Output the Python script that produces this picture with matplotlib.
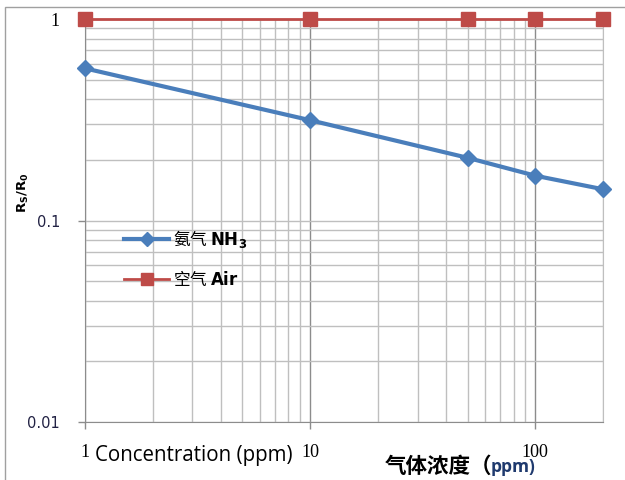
import matplotlib
matplotlib.use("Agg")
import matplotlib.pyplot as plt
from matplotlib.ticker import LogLocator, FixedLocator, NullFormatter, FixedFormatter
from matplotlib.patches import Rectangle

conc = [1, 10, 50, 100, 200]
nh3 = [0.57, 0.315, 0.205, 0.167, 0.143]
air = [1, 1, 1, 1, 1]
xticks = [1, 10, 100]
xticklabels = ["1", "10", "100"]
yticks = [0.01, 0.1, 1]
yticklabels = ["0.01", "0.1", "1"]

cjk = ['Noto Sans CJK SC', 'DejaVu Sans']

fig = plt.figure(figsize=(6.25, 4.8), dpi=100)
ax = fig.add_axes([0.136, 0.121, 0.829, 0.839])
ax.set_xscale('log')
ax.set_yscale('log')
ax.set_xlim(1, 200)
ax.set_ylim(0.01, 1)

grid_c = '#BFBFBF'
ax.xaxis.set_minor_locator(LogLocator(base=10, subs=range(2, 10), numticks=20))
ax.yaxis.set_minor_locator(LogLocator(base=10, subs=range(2, 10), numticks=20))
ax.xaxis.set_minor_formatter(NullFormatter())
ax.yaxis.set_minor_formatter(NullFormatter())
ax.grid(which='minor', color=grid_c, lw=1.0)
ax.grid(which='major', axis='y', color=grid_c, lw=1.0)
ax.grid(which='major', axis='x', color='#8C8C8C', lw=1.0)
ax.tick_params(which='minor', length=0)
ax.tick_params(which='major', length=5, color='#8C8C8C', width=1)
ax.set_axisbelow(True)

ax.xaxis.set_major_locator(FixedLocator(xticks))
ax.xaxis.set_major_formatter(FixedFormatter(xticklabels))
ax.yaxis.set_major_locator(FixedLocator(yticks))
ax.yaxis.set_major_formatter(FixedFormatter(yticklabels))
for lab in ax.get_xticklabels():
    lab.set_fontfamily('Liberation Serif')
    lab.set_fontsize(13)
ax.tick_params(axis='x', pad=11)
ax.tick_params(axis='y', pad=13, labelsize=10.5, labelcolor='#222244')
for lab, t in zip(ax.get_yticklabels(), yticks):
    if t == 1:
        lab.set_fontfamily('Liberation Serif')
        lab.set_fontsize(13)
        lab.set_color('black')

for s in ['left', 'bottom']:
    ax.spines[s].set_color('#8C8C8C')
for s in ['top', 'right']:
    ax.spines[s].set_color(grid_c)

l1, = ax.plot(conc, nh3, color='#4A7EBB', lw=3, marker='D', ms=8,
              markeredgecolor='#4A7EBB', markerfacecolor='#4A7EBB', clip_on=False, zorder=3)
l2, = ax.plot(conc, air, color='#BE4B48', lw=2, marker='s', ms=10,
              markeredgecolor='#BE4B48', markerfacecolor='#BE4B48', clip_on=False, zorder=3)

leg = ax.legend([l1, l2], ['氨气 $\\mathbf{NH_3}$', '空气 $\\mathbf{Air}$'],
                loc='upper left', bbox_to_anchor=(0.047, 0.52), frameon=False,
                prop={'family': cjk, 'size': 12}, handlelength=2.7,
                handletextpad=0.2, labelspacing=1.15, markerscale=0.85)

ax.set_ylabel('R$_\\mathregular{S}$/R$_\\mathregular{0}$', fontsize=9.5,
              fontweight='bold')
ax.yaxis.set_label_coords(-0.105, 0.57)

fig.text(95 / 625, 1 - 455 / 480, 'Concentration (ppm)', fontsize=14.8,
         family='Open Sans', va='center', ha='left')
fig.text(385 / 625, 1 - 466 / 480, '气体浓度（', fontsize=15.5, fontweight='bold',
         family=cjk, va='center', ha='left')
fig.text(491 / 625, 1 - 467 / 480, 'ppm)', fontsize=12.5, fontweight='bold',
         family='Open Sans', color='#1F3A6E', va='center', ha='left')

fig.patches.append(Rectangle((5 / 625, -0.1), 1.2, 1 - 7 / 480 + 0.1,
                             transform=fig.transFigure, fill=False,
                             edgecolor='#A0A0A0', lw=1))

fig.savefig('out.png', dpi=100)
